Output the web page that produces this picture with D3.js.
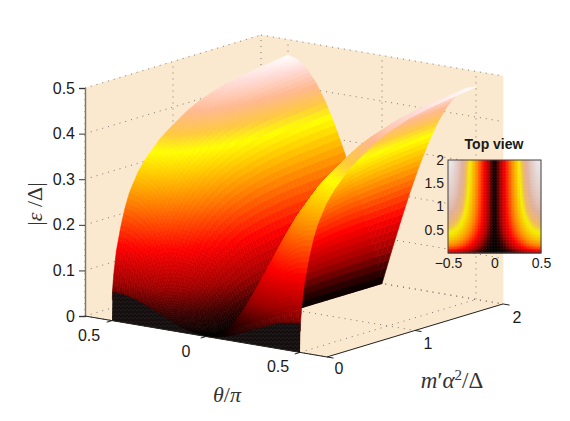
<!DOCTYPE html>
<html>
<head>
	<title>Gap surface</title>
	<script src="https://d3js.org/d3.v7.min.js" charset="utf-8"></script>
	<style>
		body { margin: 0; background: #fff; }
		text { font-family: "Liberation Sans", Arial, sans-serif; fill: #1a1a1a; }
		.math { font-family: "Liberation Serif", serif; fill: #333; }
	</style>
</head>
<body>
<div id="content"></div>

<script type="text/javascript">
	// |theta| columns of the table, the surface is mirrored around theta = 0
	var thetaValues = [0, 0.05, 0.1, 0.15, 0.2, 0.25, 0.3, 0.35, 0.4, 0.45, 0.5];
	var mValues = [0, 0.005, 0.02, 0.05, 0.1, 0.15, 0.2, 0.3, 0.4, 0.55, 0.7, 0.85, 1, 1.25, 1.5, 1.75, 2];
	// one row per m value
	var gapValues = [
		[0, 0, 0, 0, 0, 0, 0, 0, 0, 0, 0],
		[0, 0.002, 0.006, 0.013, 0.022, 0.032, 0.041, 0.05, 0.057, 0.061, 0.063],
		[0, 0.003, 0.01, 0.021, 0.036, 0.051, 0.066, 0.08, 0.091, 0.098, 0.1],
		[0, 0.004, 0.016, 0.033, 0.055, 0.078, 0.1, 0.121, 0.136, 0.147, 0.15],
		[0, 0.008, 0.027, 0.052, 0.081, 0.111, 0.14, 0.164, 0.184, 0.196, 0.2],
		[0, 0.013, 0.039, 0.071, 0.105, 0.14, 0.173, 0.201, 0.222, 0.235, 0.24],
		[0, 0.018, 0.049, 0.086, 0.125, 0.163, 0.199, 0.228, 0.251, 0.265, 0.27],
		[0, 0.028, 0.067, 0.111, 0.156, 0.197, 0.235, 0.267, 0.29, 0.305, 0.31],
		[0, 0.04, 0.087, 0.136, 0.183, 0.226, 0.264, 0.295, 0.318, 0.332, 0.337],
		[0, 0.052, 0.107, 0.16, 0.21, 0.256, 0.294, 0.326, 0.349, 0.363, 0.368],
		[0, 0.061, 0.121, 0.177, 0.229, 0.276, 0.316, 0.347, 0.371, 0.385, 0.39],
		[0, 0.064, 0.127, 0.186, 0.241, 0.29, 0.332, 0.365, 0.39, 0.405, 0.41],
		[0, 0.066, 0.131, 0.193, 0.25, 0.3, 0.344, 0.379, 0.404, 0.42, 0.425],
		[0, 0.069, 0.137, 0.201, 0.26, 0.312, 0.358, 0.394, 0.42, 0.437, 0.442],
		[0, 0.071, 0.14, 0.205, 0.266, 0.32, 0.366, 0.403, 0.43, 0.447, 0.452],
		[0, 0.072, 0.142, 0.208, 0.27, 0.325, 0.371, 0.409, 0.437, 0.453, 0.459],
		[0, 0.073, 0.144, 0.212, 0.274, 0.329, 0.377, 0.415, 0.443, 0.46, 0.466]
	];
	var zTicks = [0, 0.1, 0.2, 0.3, 0.4, 0.5];
	var thetaTicks = [-0.5, 0, 0.5];
	var mTicks = [0, 1, 2];
	var insetXTicks = [-0.5, 0, 0.5];
	var insetYTicks = [0.5, 1, 1.5, 2];
	var colorStops = [0, 0.035, 0.085, 0.16, 0.25, 0.345, 0.375, 0.41, 0.445, 0.466];
	var colorValues = ['#000000', '#380000', '#a00000', '#ff0000', '#ff8000', '#ffff00', '#ffc840', '#ffb890', '#ffdcd8', '#ffffff'];
	// the top view is duller above the yellow band
	var insetColorValues = ['#000000', '#380000', '#a00000', '#ff0000', '#ff8000', '#f4f000', '#f0b860', '#dfb09c', '#e4cfcc', '#ebebed'];

	var canvas = d3.select('#content')
		.append('svg')
		.attr('width', 570)
		.attr('height', 421);

	// oblique view, each axis adds its own screen offset
	var thetaX = d3.scaleLinear().domain([-0.5, 0.5]).range([112, 300]);
	var thetaY = d3.scaleLinear().domain([-0.5, 0.5]).range([320.6, 352.4]);
	var mX = d3.scaleLinear().domain([0, 2]).range([0, 176]);
	var mY = d3.scaleLinear().domain([0, 2]).range([0, -53]);
	var zY = d3.scaleLinear().domain([0, 0.5]).range([0, -228]);
	var color = d3.scaleLinear().domain(colorStops).range(colorValues).clamp(true);
	var insetColor = d3.scaleLinear().domain(colorStops).range(insetColorValues).clamp(true);

	var thetaMin = -0.6436, thetaMax = 0.6436, mMin = 0, mMax = 2;

	function project(t, m, z) {
		return [thetaX(t) + mX(m), thetaY(t) + mY(m) + zY(z)];
	}
	function pathOf(points) {
		return 'M' + points.map(p => p[0].toFixed(2) + ',' + p[1].toFixed(2)).join('L') + 'Z';
	}

	// looks up the table, used for shading the facets between the table rows
	var columns = thetaValues.map((t, i) => d3.scaleLinear().domain(mValues).range(gapValues.map(r => r[i])));
	function gap(t, m) {
		return d3.scaleLinear().domain(thetaValues).range(columns.map(c => c(m)))(Math.abs(t));
	}

	// walls and floor
	var wall = '#fbe9cf';
	var walls = canvas.append('g');
	[
		[[thetaMin, mMin, 0], [thetaMin, mMax, 0], [thetaMin, mMax, 0.5], [thetaMin, mMin, 0.5]],
		[[thetaMin, mMax, 0], [thetaMax, mMax, 0], [thetaMax, mMax, 0.5], [thetaMin, mMax, 0.5]],
		[[thetaMin, mMin, 0], [thetaMax, mMin, 0], [thetaMax, mMax, 0], [thetaMin, mMax, 0]]
	].forEach(f => {
		walls.append('path')
			.attr('d', pathOf(f.map(p => project(p[0], p[1], p[2]))))
			.attr('fill', wall)
			.attr('stroke', wall)
			.attr('stroke-width', 0.5);
	});

	// dotted grid
	function gridLine(a, b) {
		var p = project(a[0], a[1], a[2]), q = project(b[0], b[1], b[2]);
		walls.append('line')
			.attr('x1', p[0]).attr('y1', p[1])
			.attr('x2', q[0]).attr('y2', q[1])
			.attr('stroke', '#6e6a62')
			.attr('stroke-width', 0.9)
			.attr('stroke-dasharray', '1 5');
	}
	zTicks.forEach(z => {
		gridLine([thetaMin, mMin, z], [thetaMin, mMax, z]);
		gridLine([thetaMin, mMax, z], [thetaMax, mMax, z]);
	});
	thetaTicks.forEach(t => {
		gridLine([t, mMin, 0], [t, mMax, 0]);
		gridLine([t, mMax, 0], [t, mMax, 0.5]);
	});
	mTicks.forEach(m => {
		gridLine([thetaMin, m, 0], [thetaMax, m, 0]);
		gridLine([thetaMin, m, 0], [thetaMin, m, 0.5]);
	});

	// surface facets, far ones first so the near ones paint over them
	var thetaFine = d3.range(81).map(i => -0.5 + i / 80);
	var mFine = d3.range(71).map(i => 2 * Math.pow(i / 70, 2));
	var grid = thetaFine.map(t => mFine.map(m => gap(t, m)));
	var curtainM = mValues[1];

	var facets = [];
	thetaFine.slice(0, -1).forEach((t, i) => {
		for (var j = mFine.length - 2; j >= 0; j--) {
			if (mFine[j + 1] <= curtainM) continue;
			var z = [grid[i][j], grid[i + 1][j], grid[i + 1][j + 1], grid[i][j + 1]];
			facets.push({
				points: [project(t, mFine[j], z[0]), project(thetaFine[i + 1], mFine[j], z[1]),
					project(thetaFine[i + 1], mFine[j + 1], z[2]), project(t, mFine[j + 1], z[3])],
				z: d3.mean(z)
			});
		}
	});
	canvas.append('g').selectAll('path')
		.data(facets)
		.enter()
		.append('path')
		.attr('d', d => pathOf(d.points))
		.attr('fill', d => color(d.z))
		.attr('stroke', d => color(d.z))
		.attr('stroke-width', 0.6);

	// dense mesh at small m shows as a nearly black band
	var defs = canvas.append('defs');
	var moire = defs.append('pattern')
		.attr('id', 'moire')
		.attr('width', 4).attr('height', 4)
		.attr('patternUnits', 'userSpaceOnUse');
	moire.append('rect').attr('width', 4).attr('height', 4).attr('fill', '#150e0f');
	moire.append('path').attr('d', 'M0,3L4,1').attr('stroke', '#272021').attr('stroke-width', 0.8);

	var curtain = thetaFine.map(t => project(t, 0, 0))
		.concat(thetaFine.slice().reverse().map(t => project(t, curtainM, gap(t, curtainM))));
	canvas.append('path')
		.attr('d', pathOf(curtain))
		.attr('fill', 'url(#moire)');

	// axes
	var base = project(thetaMin, mMin, 0);
	var zAxis = d3.axisLeft(zY).tickValues(zTicks).tickFormat(d3.format('~g')).tickSize(6).tickPadding(4);
	var zG = canvas.append('g')
		.attr('transform', 'translate(' + base[0] + ',' + base[1] + ')')
		.call(zAxis);
	zG.select('.domain').attr('stroke', '#777').attr('stroke-width', 1.4);
	zG.selectAll('.tick line').attr('stroke', '#333');
	zG.selectAll('text').style('font-size', '16px');

	function axisLine(a, b) {
		var p = project(a[0], a[1], 0), q = project(b[0], b[1], 0);
		canvas.append('line')
			.attr('x1', p[0]).attr('y1', p[1])
			.attr('x2', q[0]).attr('y2', q[1])
			.attr('stroke', '#222')
			.attr('stroke-width', 1);
	}
	axisLine([thetaMin, mMin], [thetaMax, mMin]);
	axisLine([thetaMax, mMin], [thetaMax, mMax]);
	thetaTicks.forEach(t => axisLine([t, mMin], [t, mMin - 0.06]));
	mTicks.forEach(m => axisLine([thetaMax, m], [thetaMax + 0.035, m]));

	function label(text, x, y) {
		canvas.append('text')
			.attr('x', x).attr('y', y)
			.attr('text-anchor', 'middle')
			.style('font-size', '16px')
			.text(text);
	}
	var thetaLabelX = d3.scaleOrdinal().domain(thetaTicks).range([89, 186, 278]);
	var thetaLabelY = d3.scaleOrdinal().domain(thetaTicks).range([341, 357, 372]);
	thetaTicks.forEach(t => label(Math.abs(t), thetaLabelX(t), thetaLabelY(t)));
	var mLabelX = d3.scaleLinear().domain([0, 2]).range([339, 517]);
	var mLabelY = d3.scaleLinear().domain([0, 2]).range([374, 323]);
	mTicks.forEach(m => label(m, mLabelX(m), mLabelY(m)));

	// math labels
	var zLabel = canvas.append('text')
		.attr('class', 'math')
		.attr('transform', 'translate(42,204) rotate(-90)')
		.attr('text-anchor', 'middle')
		.style('font-size', '22px');
	zLabel.append('tspan').text('|');
	zLabel.append('tspan').style('font-style', 'italic').text('ε');
	zLabel.append('tspan').text(' /Δ|');

	var thetaLabel = canvas.append('text')
		.attr('class', 'math')
		.attr('x', 227).attr('y', 402)
		.attr('text-anchor', 'middle')
		.style('font-size', '22px');
	thetaLabel.append('tspan').style('font-style', 'italic').text('θ');
	thetaLabel.append('tspan').text('/');
	thetaLabel.append('tspan').style('font-style', 'italic').text('π');

	var mLabel = canvas.append('text')
		.attr('class', 'math')
		.attr('x', 452).attr('y', 388)
		.attr('text-anchor', 'middle')
		.style('font-size', '23px');
	mLabel.append('tspan').style('font-style', 'italic').text('m');
	mLabel.append('tspan').text('′');
	mLabel.append('tspan').style('font-style', 'italic').text('α');
	mLabel.append('tspan').attr('dy', -8).style('font-size', '15px').text('2');
	mLabel.append('tspan').attr('dy', 8).text('/Δ');

	// top view inset
	var insetX = d3.scaleLinear().domain([-0.5, 0.5]).range([448, 541]);
	var insetY = d3.scaleLinear().domain([0, 2]).range([253, 160]);
	var cells = [];
	d3.range(62).forEach(i => {
		d3.range(62).forEach(j => {
			cells.push({ t: -0.5 + (i + 0.5) / 62, m: 2 * (j + 0.5) / 62 });
		});
	});
	canvas.append('g').selectAll('rect')
		.data(cells)
		.enter()
		.append('rect')
		.attr('x', d => insetX(d.t - 0.5 / 62))
		.attr('y', d => insetY(d.m + 1 / 62))
		.attr('width', 93 / 62 + 0.4)
		.attr('height', 93 / 62 + 0.4)
		.attr('fill', d => insetColor(gap(d.t, d.m)));

	canvas.append('rect')
		.attr('x', 448).attr('y', 160)
		.attr('width', 93).attr('height', 93)
		.attr('fill', 'none')
		.attr('stroke', '#444')
		.attr('stroke-width', 1);

	var insetBottom = d3.axisBottom(insetX).tickValues(insetXTicks)
		.tickFormat(d => d < 0 ? '\u2212' + Math.abs(d) : d).tickSize(0).tickPadding(5);
	var ib = canvas.append('g').attr('transform', 'translate(0,253)').call(insetBottom);
	ib.select('.domain').remove();
	ib.selectAll('text').style('font-size', '14px');

	var insetLeft = d3.axisLeft(insetY).tickValues(insetYTicks).tickFormat(d3.format('~g')).tickSize(0).tickPadding(4);
	var il = canvas.append('g').attr('transform', 'translate(448,0)').call(insetLeft);
	il.select('.domain').remove();
	il.selectAll('text').style('font-size', '14px');

	canvas.append('text')
		.attr('x', 494).attr('y', 149)
		.attr('text-anchor', 'middle')
		.style('font-size', '14px')
		.style('font-weight', 'bold')
		.text('Top view');
</script>
</body>
</html>
